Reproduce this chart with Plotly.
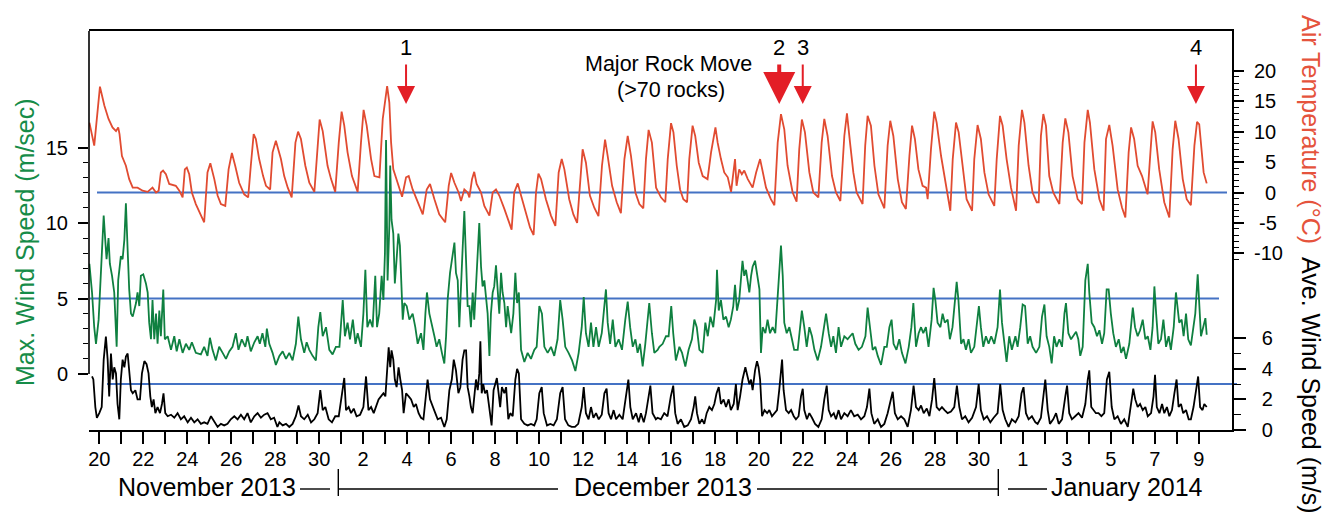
import numpy as np
import pandas as pd
import plotly.graph_objects as go

# ---------------- data (time = days since 2013-11-20 00:00) ----------------
temp_pts = [
    (-0.45, 11.5), (-0.23, 7.7), (0.03, 17.4), (0.23, 14.3), (0.42, 12.1), (0.6, 10.7), (0.76, 10.1), (0.86, 10.7),
    (0.92, 9.6), (1.03, 6.0), (1.21, 4.4), (1.36, 2.2), (1.52, 0.8), (1.74, 0.8), (1.97, 0.3), (2.2, 0.1), (2.42, 0.8),
    (2.58, 0.0), (2.7, 0.3), (2.8, 3.3), (2.9, 3.6), (3.03, 3.0), (3.18, 1.4), (3.48, 1.1), (3.64, 0.3), (3.79, -0.8),
    (3.89, 3.8), (3.98, 4.1), (4.09, 3.0), (4.21, 0.0), (4.39, -1.9), (4.62, -3.8), (4.77, -4.9), (4.92, 3.3), (5.05, 4.8),
    (5.23, 2.2), (5.38, -0.5), (5.53, -1.9), (5.73, -2.2), (5.88, 3.8), (6.03, 6.5), (6.18, 4.4), (6.36, 1.6), (6.59, -0.3),
    (6.77, -0.8), (6.89, 4.4), (7.02, 9.6), (7.12, 8.8), (7.27, 5.5), (7.45, 2.7), (7.58, 1.1), (7.77, 0.5), (7.88, 6.6),
    (8.03, 8.5), (8.26, 5.5), (8.41, 2.7), (8.57, 0.8), (8.75, -0.8), (8.92, 8.2), (9.04, 10.0), (9.17, 8.8), (9.37, 4.4),
    (9.55, 1.6), (9.78, 0.1), (9.93, 7.7), (10.02, 12.0), (10.16, 10.1), (10.38, 4.4), (10.54, 2.2), (10.73, 0.1),
    (10.89, 8.2), (11.02, 13.3), (11.14, 11.0), (11.29, 6.6), (11.49, 2.7), (11.75, 0.1), (11.9, 8.2), (12.02, 13.6),
    (12.16, 11.0), (12.36, 5.5), (12.51, 2.7), (12.74, 2.5), (12.89, 12.1), (13.09, 17.5), (13.19, 14.8), (13.27, 8.2),
    (13.37, 3.8), (13.57, 1.6), (13.77, -0.7), (13.95, 2.5), (14.07, 2.7), (14.25, 0.5), (14.48, -1.6), (14.71, -3.6),
    (14.89, 0.5), (15.04, 1.4), (15.24, -1.1), (15.46, -3.6), (15.73, -4.9), (15.89, 1.1), (16.0, 3.2), (16.15, 1.6),
    (16.34, 0.0), (16.45, -1.4), (16.6, 0.5), (16.75, 0.0), (16.83, -0.8), (16.95, 2.2), (17.05, 3.4), (17.16, 1.4),
    (17.36, 0.0), (17.51, -2.2), (17.74, -3.8), (17.89, 0.0), (18.04, 0.5), (18.19, -0.5), (18.42, -2.7), (18.65, -4.9),
    (18.75, -6.1), (18.87, 0.0), (19.03, 1.5), (19.18, -0.5), (19.38, -3.3), (19.59, -5.8), (19.75, -7.0), (19.86, 0.0),
    (19.97, 3.1), (20.09, 2.2), (20.31, -1.1), (20.54, -3.8), (20.74, -5.5), (20.89, 3.3), (21.03, 5.5), (21.15, 3.8),
    (21.37, -1.1), (21.56, -3.6), (21.73, -5.0), (21.88, 3.3), (21.98, 7.1), (22.13, 4.9), (22.31, -0.5), (22.51, -2.5),
    (22.7, -3.9), (22.86, 4.4), (23.0, 8.7), (23.12, 6.0), (23.32, 1.1), (23.53, -1.6), (23.72, -3.4), (23.88, 5.5),
    (24.03, 9.3), (24.18, 6.0), (24.38, 0.0), (24.56, -1.9), (24.74, -2.6), (24.86, 5.5), (24.98, 10.3), (25.13, 8.2),
    (25.32, 0.8), (25.54, -0.8), (25.74, -1.6), (25.85, 5.5), (26.0, 11.4), (26.11, 9.9), (26.26, 4.4), (26.41, 0.5),
    (26.56, -1.1), (26.73, -1.6), (26.83, 5.5), (26.98, 11.0), (27.1, 9.3), (27.26, 4.9), (27.44, 2.7), (27.66, 2.2),
    (27.82, 6.6), (28.02, 10.7), (28.12, 8.2), (28.27, 5.5), (28.42, 3.3), (28.58, 2.5), (28.73, 0.1), (28.91, 5.5),
    (28.98, 1.1), (29.1, 3.8), (29.22, 3.0), (29.33, 3.6), (29.49, 2.2), (29.71, 0.8), (29.87, 3.3), (30.05, 5.5),
    (30.17, 3.3), (30.32, 0.8), (30.54, -1.1), (30.7, -2.1), (30.85, 8.2), (31.0, 12.9), (31.15, 10.4), (31.3, 4.4),
    (31.53, 0.0), (31.71, -1.5), (31.83, 7.1), (31.95, 12.0), (32.09, 9.9), (32.29, 3.3), (32.47, 0.0), (32.7, -0.8),
    (32.85, 8.2), (32.97, 12.1), (33.12, 9.3), (33.32, 2.7), (33.5, 0.0), (33.7, -1.4), (33.88, 9.3), (34.0, 13.0),
    (34.14, 8.2), (34.29, 3.3), (34.44, 0.0), (34.59, -1.1), (34.71, -1.9), (34.83, 7.7), (34.94, 12.6), (35.09, 11.0),
    (35.25, 4.4), (35.43, -0.3), (35.7, -2.6), (35.85, 7.7), (35.97, 11.8), (36.11, 9.3), (36.31, 2.2), (36.5, -1.6),
    (36.68, -2.7), (36.84, 6.0), (36.96, 11.0), (37.09, 8.8), (37.25, 3.8), (37.44, 1.1), (37.6, 0.8), (37.67, -1.1),
    (37.82, 7.1), (37.97, 13.3), (38.08, 11.5), (38.28, 6.0), (38.47, 1.6), (38.7, -3.0), (38.81, 5.5), (38.96, 11.5),
    (39.08, 9.9), (39.26, 4.4), (39.44, -1.1), (39.69, -3.0), (39.79, 5.5), (39.94, 11.1), (40.09, 8.8), (40.25, 3.3),
    (40.44, -0.3), (40.7, -2.2), (40.81, 5.5), (40.96, 12.6), (41.08, 11.0), (41.26, 5.5), (41.46, 0.8), (41.69, -3.0),
    (41.81, 7.7), (41.96, 13.6), (42.07, 11.5), (42.26, 4.4), (42.44, 0.0), (42.63, -1.6), (42.72, -1.6), (42.82, 9.3),
    (42.93, 12.9), (43.05, 11.0), (43.2, 2.7), (43.38, 0.0), (43.66, -1.9), (43.81, 8.2), (43.93, 12.2), (44.07, 9.9),
    (44.26, 2.7), (44.49, -1.1), (44.69, -1.9), (44.8, 8.2), (44.95, 13.6), (45.05, 11.5), (45.25, 3.8), (45.48, -1.1),
    (45.67, -3.0), (45.78, 8.8), (45.93, 11.1), (46.08, 7.7), (46.31, 0.5), (46.51, -2.5), (46.66, -4.1), (46.81, 6.6),
    (46.92, 10.7), (47.06, 8.8), (47.22, 4.4), (47.42, 2.7), (47.6, 0.8), (47.67, -0.3), (47.8, 6.6), (47.9, 11.7),
    (48.02, 9.9), (48.2, 3.8), (48.43, -1.6), (48.66, -4.1), (48.81, 7.1), (48.93, 11.8), (49.08, 8.8), (49.27, 2.2),
    (49.45, -1.1), (49.64, -2.1), (49.8, 7.7), (49.92, 11.6), (50.02, 11.2), (50.14, 5.5), (50.22, 3.3), (50.36, 1.5),
]

wmax_pts = [
    (-0.45, 7.3), (-0.33, 5.4), (-0.23, 3.1), (-0.15, 2.0), (-0.03, 3.6), (0.08, 7.1), (0.2, 10.5), (0.27, 8.9),
    (0.33, 7.6), (0.42, 9.0), (0.48, 7.3), (0.58, 6.5), (0.68, 5.4), (0.79, 1.8), (0.86, 6.2), (0.98, 7.8), (1.06, 7.6),
    (1.14, 8.9), (1.21, 11.3), (1.29, 8.2), (1.36, 5.6), (1.44, 4.0), (1.52, 3.8), (1.67, 4.7), (1.74, 5.4), (1.82, 4.5),
    (1.89, 6.5), (2.0, 6.6), (2.12, 6.0), (2.2, 5.4), (2.27, 3.4), (2.35, 2.3), (2.42, 4.9), (2.5, 2.3), (2.58, 4.0),
    (2.65, 2.0), (2.73, 4.2), (2.8, 2.5), (2.91, 5.6), (2.98, 2.3), (3.11, 2.5), (3.26, 1.6), (3.41, 2.5), (3.52, 1.5),
    (3.64, 2.3), (3.79, 1.4), (3.94, 2.0), (4.09, 1.6), (4.21, 2.1), (4.39, 1.4), (4.62, 1.3), (4.77, 1.8), (4.92, 1.2),
    (5.03, 2.4), (5.15, 1.6), (5.3, 0.9), (5.45, 1.8), (5.61, 1.4), (5.76, 1.0), (5.91, 1.5), (6.06, 1.8), (6.21, 2.7),
    (6.33, 1.6), (6.48, 2.3), (6.64, 1.8), (6.74, 2.5), (6.89, 1.5), (7.05, 2.1), (7.2, 2.5), (7.3, 2.0), (7.42, 2.7),
    (7.55, 1.8), (7.62, 3.0), (7.73, 2.0), (7.88, 1.4), (8.03, 0.6), (8.19, 1.2), (8.34, 1.5), (8.49, 1.0), (8.64, 1.4),
    (8.79, 0.9), (8.94, 2.0), (9.05, 3.8), (9.17, 2.3), (9.32, 1.4), (9.43, 2.1), (9.55, 1.6), (9.7, 1.2), (9.85, 0.9),
    (9.96, 3.1), (10.05, 4.1), (10.16, 2.5), (10.31, 3.1), (10.46, 1.6), (10.61, 1.3), (10.76, 1.8), (10.92, 1.8),
    (11.07, 4.9), (11.17, 2.5), (11.29, 3.4), (11.4, 2.3), (11.53, 3.6), (11.65, 2.0), (11.75, 2.7), (11.9, 1.8),
    (12.01, 4.0), (12.1, 6.9), (12.19, 3.1), (12.31, 3.6), (12.43, 3.1), (12.55, 6.5), (12.63, 3.1), (12.73, 4.0),
    (12.84, 6.5), (12.92, 4.9), (12.99, 8.0), (13.04, 15.5), (13.11, 6.2), (13.19, 9.8), (13.23, 13.8), (13.29, 10.2),
    (13.37, 9.3), (13.44, 6.0), (13.52, 7.6), (13.6, 9.3), (13.67, 8.5), (13.75, 5.4), (13.8, 3.6), (13.87, 4.7),
    (13.98, 4.5), (14.1, 3.6), (14.25, 4.0), (14.37, 3.1), (14.48, 2.0), (14.63, 2.7), (14.74, 1.6), (14.83, 4.0),
    (14.9, 5.4), (15.01, 4.0), (15.13, 3.1), (15.24, 2.5), (15.34, 1.8), (15.46, 2.3), (15.58, 1.4), (15.69, 0.7),
    (15.77, 2.5), (15.84, 4.9), (15.95, 6.7), (16.07, 8.0), (16.15, 8.7), (16.22, 6.7), (16.3, 6.2), (16.37, 3.1),
    (16.45, 5.4), (16.52, 8.2), (16.6, 10.8), (16.68, 7.6), (16.75, 4.5), (16.83, 4.5), (16.9, 3.1), (16.98, 5.4),
    (17.05, 3.6), (17.13, 5.8), (17.21, 7.8), (17.28, 10.0), (17.36, 7.1), (17.43, 5.8), (17.51, 6.2), (17.59, 4.9),
    (17.66, 4.0), (17.74, 1.2), (17.81, 4.0), (17.89, 5.4), (17.96, 5.8), (18.04, 7.2), (18.11, 5.4), (18.19, 4.0),
    (18.27, 6.7), (18.34, 5.4), (18.42, 4.7), (18.5, 3.1), (18.57, 4.5), (18.65, 3.4), (18.73, 2.7), (18.83, 4.0),
    (18.92, 6.7), (19.0, 4.7), (19.08, 5.4), (19.18, 1.6), (19.33, 0.8), (19.48, 1.4), (19.63, 1.0), (19.78, 1.6),
    (19.89, 1.8), (20.01, 4.5), (20.13, 4.0), (20.24, 1.8), (20.39, 1.4), (20.54, 1.8), (20.69, 1.2), (20.84, 2.3),
    (20.96, 4.9), (21.07, 3.6), (21.19, 1.8), (21.34, 1.4), (21.5, 0.9), (21.65, 0.2), (21.8, 1.4), (21.94, 3.1),
    (22.03, 5.1), (22.13, 2.7), (22.25, 1.8), (22.36, 3.4), (22.47, 1.8), (22.59, 3.1), (22.71, 1.8), (22.85, 2.7),
    (22.97, 4.9), (23.04, 5.6), (23.12, 3.4), (23.23, 2.0), (23.35, 3.6), (23.47, 1.8), (23.62, 2.3), (23.77, 1.6),
    (23.92, 3.6), (24.03, 4.8), (24.14, 3.1), (24.26, 1.8), (24.38, 2.3), (24.48, 1.4), (24.59, 2.0), (24.71, 0.5),
    (24.83, 2.0), (24.94, 3.6), (25.01, 4.7), (25.13, 2.7), (25.24, 1.4), (25.39, 1.6), (25.47, 1.8), (25.62, 2.0),
    (25.77, 2.5), (25.89, 2.5), (26.01, 4.5), (26.1, 2.7), (26.22, 0.9), (26.38, 1.8), (26.5, 1.4), (26.65, 0.5),
    (26.8, 1.6), (26.95, 2.3), (27.06, 3.6), (27.17, 3.1), (27.29, 1.6), (27.44, 1.4), (27.56, 3.4), (27.67, 2.5),
    (27.79, 3.8), (27.92, 3.1), (28.05, 4.9), (28.09, 6.9), (28.17, 4.2), (28.27, 4.9), (28.38, 3.6), (28.5, 3.8),
    (28.62, 3.1), (28.72, 3.6), (28.83, 4.5), (28.91, 5.9), (29.0, 4.2), (29.1, 4.9), (29.18, 6.2), (29.25, 7.5),
    (29.33, 6.5), (29.41, 6.9), (29.48, 6.2), (29.56, 5.4), (29.64, 6.5), (29.71, 7.1), (29.82, 7.5), (29.91, 6.5),
    (30.02, 5.6), (30.09, 1.4), (30.17, 3.1), (30.29, 2.7), (30.39, 3.6), (30.5, 2.7), (30.62, 3.1), (30.74, 2.7),
    (30.85, 4.9), (30.92, 6.7), (31.0, 8.5), (31.08, 6.5), (31.15, 3.4), (31.26, 2.7), (31.38, 3.1), (31.5, 2.3),
    (31.6, 1.6), (31.76, 1.6), (31.87, 3.1), (31.95, 4.2), (32.06, 3.1), (32.17, 1.8), (32.29, 3.1), (32.41, 2.5),
    (32.52, 1.6), (32.67, 0.9), (32.82, 1.8), (32.94, 3.1), (33.05, 4.0), (33.17, 2.7), (33.28, 1.8), (33.38, 2.5),
    (33.5, 1.4), (33.62, 3.1), (33.73, 1.8), (33.88, 2.5), (34.03, 2.3), (34.14, 2.5), (34.26, 2.7), (34.38, 2.0),
    (34.53, 1.6), (34.68, 1.8), (34.84, 2.5), (34.94, 4.4), (35.05, 3.1), (35.17, 1.6), (35.29, 1.8), (35.4, 1.2),
    (35.55, 0.6), (35.7, 1.8), (35.81, 1.8), (35.93, 3.1), (36.03, 3.6), (36.12, 2.0), (36.25, 1.6), (36.38, 2.3),
    (36.5, 1.4), (36.66, 0.7), (36.81, 1.8), (36.93, 3.1), (37.02, 4.7), (37.14, 1.8), (37.26, 2.7), (37.37, 3.1),
    (37.47, 2.7), (37.59, 3.1), (37.71, 1.8), (37.85, 3.6), (37.94, 5.7), (38.02, 4.9), (38.12, 3.4), (38.25, 3.1),
    (38.35, 4.0), (38.45, 3.4), (38.58, 3.6), (38.68, 2.3), (38.8, 3.1), (38.9, 4.9), (38.99, 6.1), (39.07, 4.9),
    (39.19, 2.0), (39.3, 2.3), (39.41, 1.6), (39.53, 2.3), (39.64, 1.4), (39.79, 1.8), (39.91, 3.6), (40.0, 4.5),
    (40.09, 3.1), (40.2, 1.8), (40.32, 2.5), (40.44, 2.0), (40.56, 2.5), (40.7, 2.0), (40.85, 3.1), (40.96, 5.6),
    (41.05, 3.4), (41.16, 1.8), (41.26, 0.8), (41.38, 2.5), (41.5, 1.6), (41.66, 2.5), (41.76, 1.8), (41.88, 3.1),
    (41.99, 4.6), (42.1, 4.5), (42.22, 2.0), (42.33, 2.5), (42.44, 1.8), (42.6, 1.4), (42.75, 1.8), (42.87, 3.8),
    (42.98, 4.6), (43.08, 2.5), (43.2, 1.8), (43.31, 0.7), (43.42, 2.5), (43.53, 1.8), (43.66, 2.3), (43.78, 1.8),
    (43.89, 4.0), (43.96, 4.7), (44.07, 2.7), (44.19, 2.3), (44.29, 2.5), (44.42, 2.8), (44.52, 2.3), (44.61, 1.2),
    (44.72, 1.8), (44.84, 6.2), (44.95, 7.3), (45.02, 5.4), (45.13, 3.4), (45.25, 3.1), (45.37, 2.5), (45.48, 2.9),
    (45.6, 2.0), (45.7, 2.7), (45.81, 5.6), (45.9, 5.6), (46.0, 4.0), (46.11, 2.7), (46.23, 1.8), (46.36, 2.3),
    (46.47, 1.4), (46.58, 1.8), (46.69, 1.0), (46.84, 2.0), (47.0, 4.4), (47.1, 3.1), (47.22, 2.5), (47.33, 2.9),
    (47.45, 3.6), (47.57, 2.3), (47.68, 2.5), (47.8, 1.6), (47.9, 3.1), (47.98, 5.8), (48.06, 4.0), (48.16, 2.0),
    (48.28, 2.3), (48.39, 3.6), (48.51, 1.8), (48.63, 2.5), (48.73, 1.6), (48.86, 3.1), (48.96, 5.4), (49.04, 4.5),
    (49.11, 3.4), (49.22, 3.6), (49.31, 2.5), (49.42, 4.0), (49.52, 2.3), (49.64, 1.9), (49.75, 3.1), (49.84, 4.0),
    (49.95, 6.6), (50.02, 4.5), (50.1, 2.5), (50.2, 3.1), (50.3, 3.7), (50.36, 2.6),
]

wave_pts = [
    (-0.33, 3.5), (-0.27, 3.3), (-0.18, 1.5), (-0.11, 0.8), (0.0, 1.1), (0.11, 1.5), (0.2, 4.6), (0.3, 6.1),
    (0.38, 4.6), (0.45, 2.2), (0.53, 5.0), (0.61, 3.3), (0.68, 4.1), (0.76, 3.7), (0.83, 1.7), (0.91, 0.7), (0.98, 3.3),
    (1.06, 4.6), (1.14, 4.1), (1.21, 4.8), (1.29, 5.0), (1.36, 3.7), (1.44, 2.6), (1.52, 2.4), (1.64, 2.6), (1.74, 2.0),
    (1.85, 2.0), (1.94, 3.7), (2.05, 4.5), (2.15, 4.3), (2.24, 3.7), (2.32, 2.2), (2.39, 1.5), (2.47, 2.0), (2.55, 1.1),
    (2.65, 1.5), (2.76, 1.1), (2.85, 1.7), (2.92, 2.4), (3.0, 1.1), (3.11, 0.9), (3.26, 1.0), (3.41, 0.8), (3.56, 1.1),
    (3.71, 0.7), (3.86, 0.9), (4.02, 0.5), (4.17, 0.8), (4.32, 0.5), (4.47, 0.7), (4.62, 0.4), (4.77, 0.5), (4.92, 0.4),
    (5.08, 0.9), (5.23, 0.5), (5.38, 0.2), (5.53, 0.4), (5.68, 0.3), (5.83, 0.4), (5.98, 0.7), (6.14, 0.9), (6.29, 0.7),
    (6.44, 1.0), (6.59, 0.7), (6.74, 1.1), (6.89, 0.5), (7.05, 0.9), (7.2, 1.1), (7.35, 0.8), (7.5, 1.0), (7.65, 1.1),
    (7.8, 0.7), (7.95, 0.8), (8.1, 0.2), (8.19, 0.5), (8.34, 0.3), (8.49, 0.4), (8.64, 0.2), (8.79, 0.4), (8.94, 0.9),
    (9.06, 1.6), (9.17, 0.9), (9.32, 0.7), (9.48, 1.0), (9.63, 0.5), (9.78, 0.7), (9.93, 1.1), (10.05, 2.6), (10.16, 1.3),
    (10.28, 1.5), (10.43, 0.7), (10.58, 0.5), (10.73, 0.9), (10.89, 0.9), (11.04, 2.4), (11.14, 3.4), (11.22, 1.3),
    (11.34, 1.5), (11.45, 1.1), (11.57, 1.4), (11.7, 0.9), (11.86, 1.0), (12.01, 1.5), (12.13, 3.5), (12.24, 1.3),
    (12.36, 1.5), (12.48, 1.1), (12.58, 1.5), (12.7, 2.0), (12.81, 2.2), (12.92, 2.4), (13.01, 2.2), (13.09, 4.3),
    (13.16, 5.4), (13.23, 4.1), (13.29, 5.2), (13.37, 4.6), (13.44, 3.3), (13.52, 2.8), (13.61, 4.1), (13.69, 3.3),
    (13.77, 2.6), (13.84, 1.1), (13.95, 2.4), (14.07, 2.2), (14.18, 2.0), (14.3, 1.5), (14.4, 1.7), (14.52, 1.1),
    (14.63, 0.8), (14.74, 0.7), (14.86, 2.4), (14.93, 3.3), (15.04, 2.0), (15.16, 1.5), (15.28, 1.1), (15.39, 0.7),
    (15.54, 0.8), (15.69, 0.2), (15.8, 0.7), (15.92, 2.6), (16.03, 3.3), (16.12, 4.6), (16.22, 3.9), (16.33, 2.4),
    (16.42, 2.8), (16.52, 4.6), (16.6, 5.2), (16.68, 5.2), (16.75, 2.8), (16.83, 2.2), (16.9, 1.5), (16.98, 1.1),
    (17.05, 2.4), (17.13, 3.3), (17.21, 2.6), (17.28, 3.7), (17.33, 5.8), (17.39, 2.4), (17.46, 3.0), (17.54, 2.4),
    (17.63, 2.6), (17.74, 1.5), (17.84, 0.3), (17.93, 2.6), (18.01, 3.0), (18.08, 3.4), (18.16, 2.4), (18.23, 1.5),
    (18.31, 2.8), (18.42, 2.4), (18.5, 2.8), (18.6, 0.7), (18.69, 1.1), (18.8, 0.9), (18.92, 3.3), (19.0, 4.0),
    (19.08, 3.7), (19.18, 0.7), (19.33, 0.4), (19.48, 0.3), (19.63, 0.4), (19.78, 0.3), (19.89, 0.7), (20.01, 2.4),
    (20.12, 2.8), (20.21, 1.1), (20.36, 0.3), (20.51, 0.4), (20.66, 0.3), (20.81, 0.7), (20.96, 2.4), (21.07, 2.8),
    (21.18, 0.7), (21.33, 0.3), (21.48, 0.2), (21.63, 0.2), (21.78, 0.4), (21.94, 1.5), (22.03, 2.8), (22.13, 1.1),
    (22.25, 0.7), (22.36, 1.5), (22.47, 0.8), (22.59, 1.1), (22.71, 0.7), (22.85, 1.0), (22.97, 2.4), (23.07, 2.7),
    (23.16, 1.1), (23.27, 0.7), (23.39, 1.3), (23.5, 0.7), (23.65, 1.0), (23.8, 0.7), (23.95, 2.2), (24.06, 3.3),
    (24.15, 1.5), (24.26, 0.7), (24.41, 1.1), (24.53, 0.5), (24.63, 1.1), (24.76, 0.5), (24.86, 1.1), (24.98, 2.4),
    (25.06, 2.9), (25.16, 1.1), (25.31, 0.7), (25.39, 0.8), (25.54, 0.7), (25.69, 1.1), (25.84, 0.9), (25.99, 2.2),
    (26.1, 2.9), (26.19, 1.1), (26.3, 0.4), (26.45, 0.7), (26.6, 0.2), (26.76, 0.3), (26.91, 0.7), (27.03, 1.5),
    (27.1, 2.2), (27.18, 1.1), (27.29, 0.4), (27.41, 0.7), (27.51, 0.4), (27.62, 1.1), (27.74, 1.5), (27.86, 1.3),
    (27.97, 1.7), (28.07, 2.4), (28.17, 2.8), (28.27, 1.7), (28.39, 2.0), (28.5, 1.5), (28.62, 2.0), (28.72, 1.3),
    (28.85, 1.7), (28.95, 3.0), (29.03, 1.3), (29.14, 2.2), (29.25, 3.3), (29.38, 4.1), (29.46, 3.5), (29.56, 3.0),
    (29.64, 3.3), (29.71, 2.6), (29.82, 3.9), (29.91, 4.5), (29.98, 4.1), (30.05, 3.3), (30.14, 0.9), (30.25, 1.3),
    (30.37, 1.1), (30.47, 1.3), (30.59, 0.9), (30.7, 1.1), (30.82, 1.3), (30.92, 2.6), (30.99, 3.9), (31.05, 4.6),
    (31.12, 2.6), (31.23, 1.3), (31.35, 1.1), (31.46, 1.3), (31.58, 0.9), (31.68, 0.7), (31.8, 0.9), (31.91, 2.2),
    (31.99, 2.7), (32.06, 1.3), (32.18, 0.7), (32.29, 1.1), (32.41, 0.8), (32.55, 0.4), (32.7, 0.2), (32.85, 0.7),
    (32.97, 2.0), (33.08, 2.9), (33.17, 1.3), (33.28, 0.9), (33.4, 1.1), (33.5, 0.7), (33.62, 1.3), (33.73, 0.7),
    (33.88, 1.1), (34.03, 0.9), (34.18, 1.3), (34.33, 0.9), (34.49, 1.0), (34.64, 0.7), (34.79, 0.9), (34.91, 1.5),
    (35.02, 2.7), (35.11, 1.1), (35.24, 0.4), (35.4, 0.7), (35.55, 0.2), (35.7, 0.4), (35.85, 1.1), (36.0, 2.0),
    (36.08, 2.5), (36.18, 1.1), (36.31, 0.7), (36.46, 0.9), (36.61, 0.7), (36.76, 0.2), (36.91, 1.3), (37.03, 2.9),
    (37.14, 1.5), (37.26, 1.3), (37.37, 1.6), (37.49, 1.1), (37.63, 1.4), (37.75, 0.9), (37.87, 2.0), (37.97, 3.4),
    (38.08, 1.5), (38.2, 1.3), (38.32, 1.5), (38.44, 1.3), (38.58, 1.1), (38.73, 1.2), (38.88, 1.5), (39.0, 2.9),
    (39.11, 1.5), (39.23, 0.7), (39.38, 0.9), (39.53, 0.5), (39.69, 0.8), (39.87, 1.5), (39.99, 3.0), (40.09, 1.3),
    (40.22, 0.7), (40.37, 0.9), (40.52, 0.5), (40.67, 0.8), (40.85, 1.1), (40.97, 3.0), (41.08, 1.3), (41.2, 0.7),
    (41.35, 0.2), (41.5, 0.7), (41.66, 0.5), (41.81, 0.9), (41.94, 2.4), (42.03, 2.8), (42.14, 1.1), (42.26, 0.7),
    (42.41, 0.9), (42.57, 0.5), (42.67, 0.4), (42.82, 0.8), (42.95, 2.2), (43.02, 3.3), (43.13, 1.3), (43.23, 0.4),
    (43.38, 0.7), (43.51, 1.1), (43.63, 0.4), (43.78, 0.7), (43.93, 2.2), (44.01, 2.9), (44.11, 1.1), (44.23, 0.7),
    (44.38, 0.9), (44.53, 1.1), (44.69, 0.8), (44.84, 1.7), (44.95, 3.3), (45.02, 3.9), (45.11, 1.5), (45.22, 1.3),
    (45.32, 1.1), (45.44, 1.1), (45.57, 0.9), (45.7, 1.1), (45.82, 3.3), (45.93, 3.8), (46.04, 1.5), (46.16, 0.7),
    (46.31, 0.9), (46.46, 0.4), (46.61, 0.7), (46.77, 0.2), (46.92, 1.7), (47.02, 2.7), (47.11, 2.0), (47.22, 1.5),
    (47.33, 1.7), (47.45, 1.3), (47.57, 1.5), (47.68, 0.9), (47.83, 1.1), (47.94, 2.2), (48.01, 3.6), (48.09, 1.5),
    (48.21, 1.1), (48.33, 1.7), (48.43, 1.1), (48.55, 1.5), (48.66, 0.9), (48.78, 1.3), (48.89, 2.4), (48.99, 3.3),
    (49.08, 1.5), (49.19, 1.7), (49.29, 1.1), (49.42, 1.3), (49.54, 0.7), (49.64, 0.7), (49.76, 1.5), (49.87, 2.4),
    (49.97, 3.5), (50.06, 1.5), (50.17, 1.3), (50.25, 1.7), (50.36, 1.5),
]

tick_labels = ["20", "", "22", "", "24", "", "26", "", "28", "", "30",
               "", "2", "", "4", "", "6", "", "8", "", "10", "", "12", "", "14", "", "16", "", "18", "",
               "20", "", "22", "", "24", "", "26", "", "28", "", "30", "",
               "1", "", "3", "", "5", "", "7", "", "9"]
month_labels = ["November 2013", "December 2013", "January 2014"]

event_days = [13.95, 30.92, 31.99, 49.87]
event_labels = ["1", "2", "3", "4"]
event_major = [False, True, False, False]

wmax_ticks = [0, 5, 10, 15]
temp_ticks = [-10, -5, 0, 5, 10, 15, 20]
wave_ticks = [0, 2, 4, 6]

# ---------------- helpers ----------------
BASE = pd.Timestamp("2013-11-20")
def to_time(days):
    return BASE + pd.to_timedelta(np.asarray(days, dtype=float), unit="D")

W, H = 1326, 517
PL, PR, PT, PB = 89, 1232, 31, 430
def px_x(X):
    return (X - PL) / (PR - PL)
def px_y(Y):
    return (PB - Y) / (PB - PT)

FONT = "Liberation Sans, Arial, Helvetica, sans-serif"
RED = "#E14B31"
RED_T = "#E5533C"
GREEN = "#0F8040"
GREEN_T = "#168C48"
BLUE = "#4472C4"
ARROW = "#E31E26"

td, tv = zip(*temp_pts)
md, mv = zip(*wmax_pts)
ad, av = zip(*wave_pts)

fig = go.Figure()
fig.add_trace(go.Scatter(x=to_time(md), y=mv, mode="lines", yaxis="y",
                         line=dict(color=GREEN, width=1.8), name="Max. Wind Speed"))
fig.add_trace(go.Scatter(x=to_time(td), y=tv, mode="lines", yaxis="y2",
                         line=dict(color=RED, width=1.8), name="Air Temperature"))
fig.add_trace(go.Scatter(x=to_time(ad), y=av, mode="lines", yaxis="y3",
                         line=dict(color="black", width=1.8), name="Ave. Wind Speed"))

tick_dates = pd.date_range("2013-11-20", "2014-01-09", freq="D")

# axis ranges from pixel geometry
wmax_px_per = 15.1
temp_px_per = 6.08
wave_px_per = 15.3
wmax0_y, temp0_y = 374, 192.5
wmax_range = [-(PB - wmax0_y) / wmax_px_per, (wmax0_y - PT) / wmax_px_per]
temp_range = [(temp0_y - PB) / temp_px_per, (temp0_y - PT) / temp_px_per]
wave_range = [0, (PB - PT) / wave_px_per]

x_range = [to_time(-0.468), to_time(51.51)]

fig.update_layout(
    width=W, height=H,
    margin=dict(l=PL, r=W - PR, t=PT, b=H - PB),
    paper_bgcolor="white", plot_bgcolor="rgba(0,0,0,0)",
    showlegend=False,
    font=dict(family=FONT, size=20, color="black"),
    xaxis=dict(type="date", range=x_range, tickmode="array", tickvals=tick_dates, ticktext=tick_labels,
               ticks="outside", ticklen=12, tickwidth=1.6, tickcolor="black",
               showline=True, linecolor="black", linewidth=1.6, mirror=True,
               showgrid=False, zeroline=False, tickfont=dict(size=20), ticklabelstandoff=-2),
    yaxis=dict(range=wmax_range, tickmode="array", tickvals=wmax_ticks,
               ticktext=[str(v) for v in wmax_ticks], ticks="outside", ticklen=10, tickwidth=1.6,
               tickcolor="black", showline=False, showgrid=False, zeroline=False,
               tickfont=dict(size=20), ticklabelstandoff=6,
               minor=dict(tickmode="array", tickvals=[v for v in range(1, 15) if v % 5],
                          ticks="outside", ticklen=5, tickwidth=1.4, tickcolor="black", showgrid=False)),
    yaxis2=dict(range=temp_range, overlaying="y", side="right", anchor="x",
                tickmode="array", tickvals=temp_ticks,
                ticktext=["-10", "\u2005-5", "\u20070", "\u20075", "10", "15", "20"],
                ticks="outside", ticklen=11, tickwidth=1.6, tickcolor="black",
                showline=False, showgrid=False, zeroline=False, tickfont=dict(size=20),
                ticklabelstandoff=6,
                minor=dict(tickmode="array", tickvals=[v for v in range(-11, 20) if v % 5],
                           ticks="outside", ticklen=6, tickwidth=1.4, tickcolor="black", showgrid=False)),
    yaxis3=dict(range=wave_range, overlaying="y", side="right", anchor="x",
                tickmode="array", tickvals=wave_ticks, ticktext=[str(v) for v in wave_ticks],
                ticks="outside", ticklen=12, tickwidth=1.6, tickcolor="black",
                showline=True, linecolor="black", linewidth=1.6,
                showgrid=False, zeroline=False, tickfont=dict(size=20), ticklabelstandoff=12,
                minor=dict(tickmode="array", tickvals=[1, 3, 5],
                           ticks="outside", ticklen=7, tickwidth=1.4, tickcolor="black", showgrid=False)),
)

shapes = []
# partial left axis line (from 0 m/s to the top)
shapes.append(dict(type="line", xref="paper", yref="paper", x0=0, x1=0, y0=px_y(wmax0_y), y1=1,
                   line=dict(color="black", width=1.6)))
# reference lines
shapes.append(dict(type="line", xref="paper", yref="y2", x0=px_x(97), x1=px_x(1227), y0=0, y1=0,
                   line=dict(color=BLUE, width=2), layer="below"))
shapes.append(dict(type="line", xref="paper", yref="y", x0=px_x(90), x1=px_x(1219), y0=5, y1=5,
                   line=dict(color=BLUE, width=2), layer="below"))
shapes.append(dict(type="line", xref="paper", yref="y3", x0=px_x(107), x1=px_x(1237), y0=3, y1=3,
                   line=dict(color=BLUE, width=2), layer="below"))
# month bracket lines
yb = px_y(489)
for x0, x1 in [(300, 330), (338, 558), (757, 998), (1008, 1047)]:
    shapes.append(dict(type="line", xref="paper", yref="paper", x0=px_x(x0), x1=px_x(x1), y0=yb, y1=yb,
                       line=dict(color="black", width=1.4)))
for xb in [338.3, 998.3]:
    shapes.append(dict(type="line", xref="paper", yref="paper", x0=px_x(xb), x1=px_x(xb),
                       y0=px_y(469), y1=px_y(496), line=dict(color="black", width=1.4)))
fig.update_layout(shapes=shapes)

ann = []
for label, xc in zip(month_labels, [207, 662.5, 1126.7]):
    ann.append(dict(text=label, xref="paper", yref="paper", x=px_x(xc), y=px_y(487),
                    xanchor="center", yanchor="middle", showarrow=False, font=dict(size=25, color="black")))
# axis titles
ann.append(dict(text="Max. Wind Speed (m/sec)", xref="paper", yref="paper", x=px_x(25), y=px_y(242),
                textangle=-90, showarrow=False, xanchor="center", yanchor="middle",
                font=dict(size=25, color=GREEN_T)))
ann.append(dict(text="Air Temperature (\u00b0C)", xref="paper", yref="paper", x=px_x(1311), y=px_y(129),
                textangle=90, showarrow=False, xanchor="center", yanchor="middle",
                font=dict(size=25, color=RED_T)))
ann.append(dict(text="Ave. Wind Speed (m/s)", xref="paper", yref="paper", x=px_x(1311), y=px_y(385),
                textangle=90, showarrow=False, xanchor="center", yanchor="middle",
                font=dict(size=25, color="black")))
# events
for d, lab, major in zip(event_days, event_labels, event_major):
    t = to_time([d])[0]
    ann.append(dict(text="", x=t, xref="x", y=px_y(104), yref="paper", showarrow=True,
                    ax=0, ay=-41, arrowhead=2, arrowcolor=ARROW,
                    arrowwidth=4 if major else 2, arrowsize=1.6 if major else 1.8))
    ann.append(dict(text=lab, x=t, xref="x", y=px_y(47), yref="paper", showarrow=False,
                    xanchor="center", yanchor="middle", font=dict(size=22, color="black")))
ann.append(dict(text="Major Rock Move", xref="paper", yref="paper", x=px_x(668), y=px_y(64),
                showarrow=False, xanchor="center", yanchor="middle", font=dict(size=21.5, color="black")))
ann.append(dict(text="(>70 rocks)", xref="paper", yref="paper", x=px_x(671), y=px_y(90),
                showarrow=False, xanchor="center", yanchor="middle", font=dict(size=21.5, color="black")))
fig.update_layout(annotations=ann)

fig.write_html("out.html")
